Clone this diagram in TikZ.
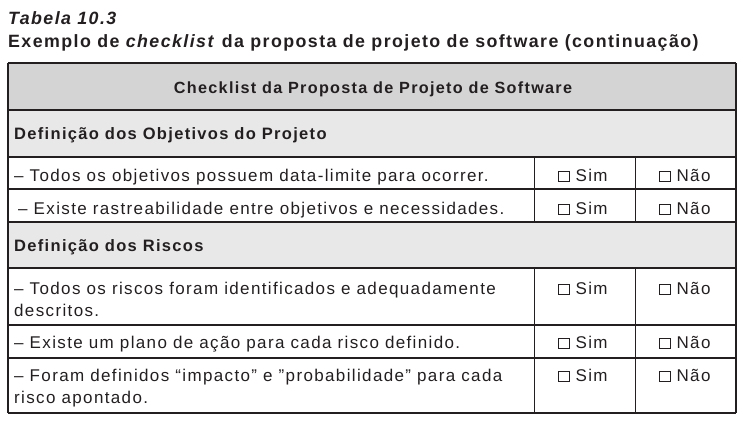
\documentclass[tikz,border=0pt]{standalone}
\usepackage{fontspec}
\setmainfont{Liberation Sans}[LetterSpace=8]
\definecolor{tinta}{HTML}{231F20}
\definecolor{cinzaescuro}{HTML}{D4D4D4}
\definecolor{cinzaclaro}{HTML}{E8E8E8}
\newcommand{\caixa}{{\setlength{\fboxsep}{0pt}\setlength{\fboxrule}{0.9pt}\fbox{\rule{0pt}{9.5pt}\hspace{9.5pt}}}}
\tikzset{
	texto/.style={anchor=base west, inner sep=0pt, text=tinta, font=\fontsize{17}{22}\selectfont},
	negrito/.style={texto, font=\fontsize{16.5}{22}\selectfont\bfseries},
	linha/.style={line width=1.2pt, draw=tinta}
}
\begin{document}
\begin{tikzpicture}[x=1pt,y=-1pt]
	\useasboundingbox (0,0) rectangle (746,421);
	\node[texto, font=\fontsize{17.8}{20}\selectfont\bfseries\itshape] (titulo) at (8,24) {Tabela 10.3};
	\node[texto, font=\fontsize{17.8}{20}\selectfont\bfseries] (legenda) at (8,47) {Exemplo de \textit{checklist} da proposta de projeto de software (continuação)};
	\fill[cinzaescuro] (8,63) rectangle (736,110);
	\fill[cinzaclaro] (8,110) rectangle (736,157) (8,222) rectangle (736,268);
	\foreach \y in {63,110,157,189,222,268,325,358,413}
		\draw[linha] (8,\y) -- (736,\y);
	\draw[linha] (8,63) -- (8,413) (736,63) -- (736,413);
	\foreach \x in {534,635}
		\draw[line width=0.9pt, tinta] (\x,157) -- (\x,222) (\x,268) -- (\x,413);
	\node[negrito, anchor=base, font=\fontsize{16.2}{22}\selectfont\bfseries] (cabecalho) at (373,93) {Checklist da Proposta de Projeto de Software};
	\node[negrito] (objetivos) at (14,139) {Definição dos Objetivos do Projeto};
	\node[texto] (datalimite) at (14,181) {– Todos os objetivos possuem data-limite para ocorrer.};
	\node[texto] (rastreio) at (18,214) {– Existe rastreabilidade entre objetivos e necessidades.};
	\node[negrito] (riscos) at (14,251) {Definição dos Riscos};
	\node[texto, align=left] (identificados) at (14,316) {– Todos os riscos foram identificados e adequadamente\\descritos.};
	\node[texto] (plano) at (14,348) {– Existe um plano de ação para cada risco definido.};
	\node[texto, align=left] (impacto) at (14,403) {– Foram definidos “impacto” e ”probabilidade” para cada\\risco apontado.};
	\foreach \y in {181,214,294,348,381} {
		\node[texto] (sim-\y) at (558,\y) {\caixa\ Sim};
		\node[texto] (nao-\y) at (659,\y) {\caixa\ Não};
	}
\end{tikzpicture}
\end{document}
